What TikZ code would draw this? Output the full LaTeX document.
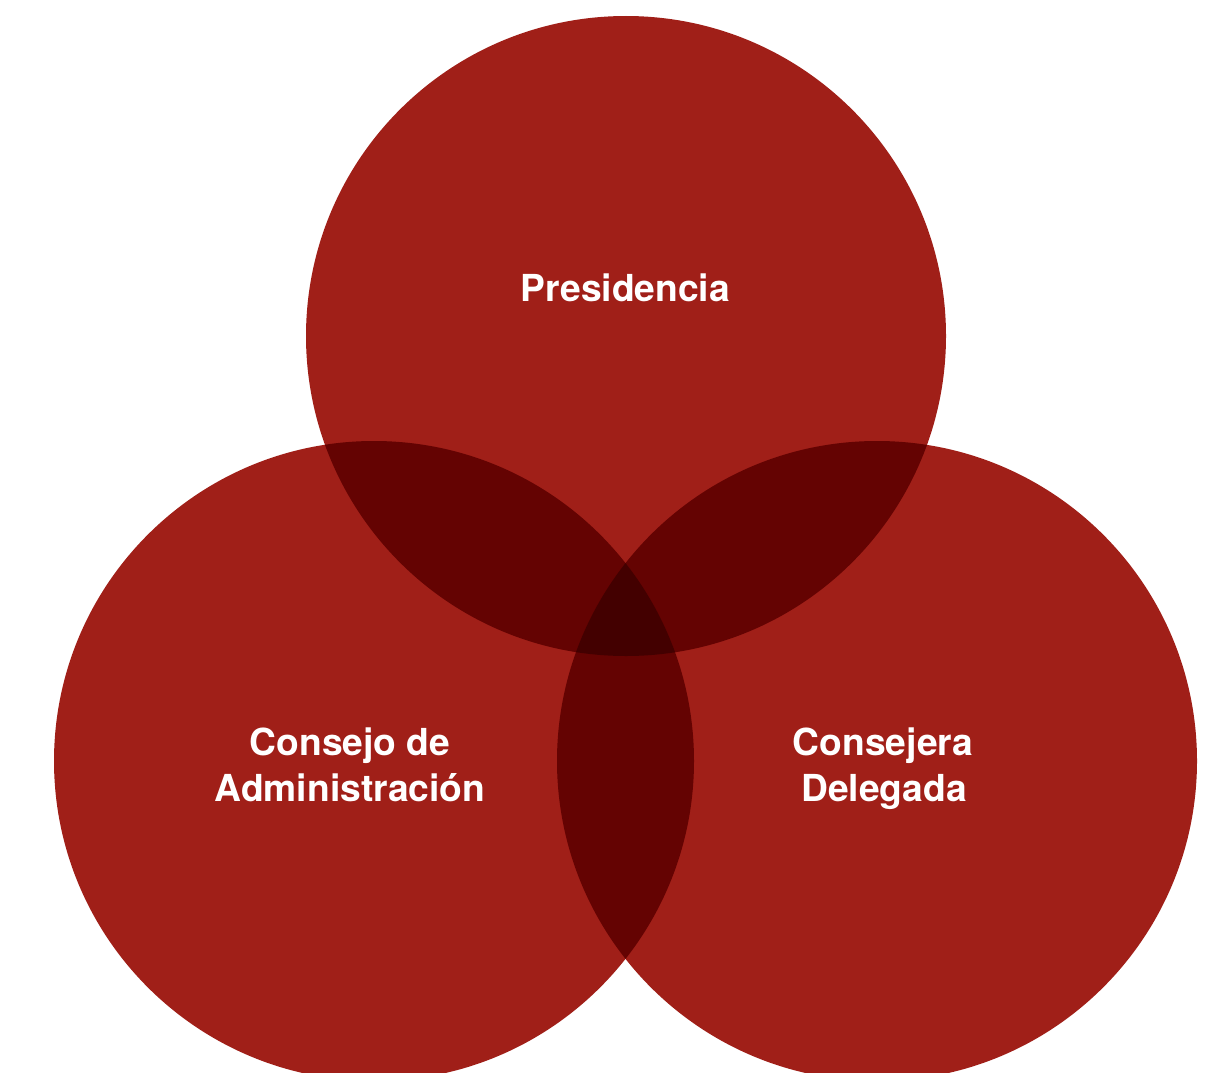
\documentclass[tikz,border=0pt]{standalone}
\usepackage{fontspec}
\setmainfont{TeX Gyre Heros}
\definecolor{vsingle}{HTML}{A01F18}
\definecolor{vdouble}{HTML}{640302}
\definecolor{vtriple}{HTML}{430000}
\begin{document}
\begin{tikzpicture}[x=1pt,y=-1pt,
  lbl/.style={text=white,font=\fontsize{37.2}{46}\selectfont\bfseries,inner sep=0pt,anchor=base}]
\useasboundingbox (0,0) rectangle (1215,1073);
\clip (0,0) rectangle (1215,1073);
\def\R{320}
\coordinate (T) at (626,336);
\coordinate (L) at (374,761);
\coordinate (Rt) at (877,761);
\fill[vsingle] (T) circle (\R);
\fill[vsingle] (L) circle (\R);
\fill[vsingle] (Rt) circle (\R);
\begin{scope}
  \clip (T) circle (\R);
  \fill[vdouble] (L) circle (\R);
  \fill[vdouble] (Rt) circle (\R);
\end{scope}
\begin{scope}
  \clip (L) circle (\R);
  \fill[vdouble] (Rt) circle (\R);
\end{scope}
\begin{scope}
  \clip (T) circle (\R);
  \clip (L) circle (\R);
  \fill[vtriple] (Rt) circle (\R);
\end{scope}
\node[lbl] (p) at (625.5,301) {Presidencia};
\node[lbl] (c1) at (350,755) {Consejo de};
\node[lbl] (c2) at (350,801) {Administración};
\node[lbl] (d1) at (883,755) {Consejera};
\node[lbl] (d2) at (884,801) {Delegada};
\end{tikzpicture}
\end{document}
